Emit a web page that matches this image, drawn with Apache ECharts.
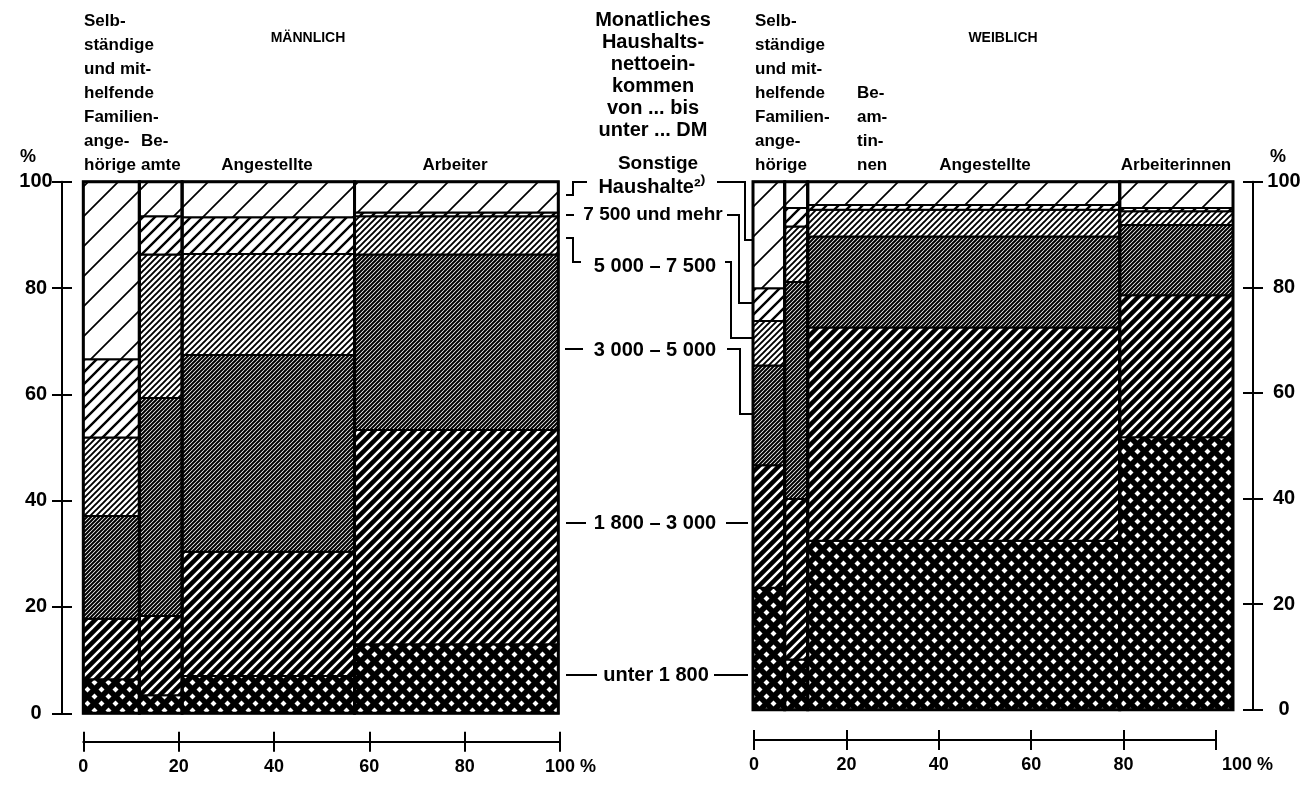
<!DOCTYPE html>
<html><head><meta charset="utf-8">
<script src="https://cdn.jsdelivr.net/npm/echarts@6/dist/echarts.min.js"></script>
<style>html,body{margin:0;padding:0;background:#fff}#c{width:1308px;height:785px}</style>
</head><body><div id="c"></div>
<script>
// ---- data ----
const incomeBands = ['unter 1 800', '1 800 – 3 000', '3 000 – 5 000', '5 000 – 7 500', '7 500 und mehr', 'Sonstige Haushalte'];
const maleGroups = ['Selbständige und mithelfende Familienangehörige', 'Beamte', 'Angestellte', 'Arbeiter'];
const maleWidths = [11.8, 9.0, 36.3, 42.9];
const maleSelbst = [6.4, 11.4, 19.3, 14.8, 14.7, 33.4];
const maleBeamte = [3.4, 14.9, 41.0, 27.0, 7.2, 6.5];
const maleAngest = [7.0, 23.4, 37.0, 19.0, 6.9, 6.7];
const maleArbeit = [13.0, 40.3, 33.0, 7.2, 0.7, 5.8];
const femaleGroups = ['Selbständige und mithelfende Familienangehörige', 'Beamtinnen', 'Angestellte', 'Arbeiterinnen'];
const femaleWidths = [6.6, 4.8, 65.0, 23.6];
const femaleSelbst = [23.1, 23.2, 18.9, 8.4, 6.2, 20.2];
const femaleBeamt = [9.5, 30.4, 41.1, 10.5, 3.5, 5.0];
const femaleAngest = [32.0, 40.4, 17.2, 5.1, 0.9, 4.4];
const femaleArbeit = [51.6, 26.9, 13.3, 2.6, 0.6, 5.0];
const axisTicks = [0, 20, 40, 60, 80, 100];

const maleShares = [maleSelbst, maleBeamte, maleAngest, maleArbeit];
const femaleShares = [femaleSelbst, femaleBeamt, femaleAngest, femaleArbeit];

// ---- patterns ----
function hatch(P, w, bg, fg) {
  const c = document.createElement('canvas'); c.width = P; c.height = P;
  const g = c.getContext('2d');
  g.fillStyle = bg; g.fillRect(0, 0, P, P);
  g.strokeStyle = fg; g.lineWidth = w;
  g.beginPath();
  for (const o of [-P, 0, P]) { g.moveTo(o - 1, P + 1); g.lineTo(o + P + 1, -1); }
  g.stroke();
  return { image: c, repeat: 'repeat' };
}
function cross(P, r) {
  const c = document.createElement('canvas'); c.width = P; c.height = P;
  const g = c.getContext('2d');
  g.fillStyle = '#000'; g.fillRect(0, 0, P, P);
  g.fillStyle = '#fff';
  for (const [cx, cy] of [[P / 4, P / 4], [3 * P / 4, 3 * P / 4]]) {
    g.beginPath(); g.moveTo(cx, cy - r); g.lineTo(cx + r, cy); g.lineTo(cx, cy + r); g.lineTo(cx - r, cy); g.closePath(); g.fill();
  }
  return { image: c, repeat: 'repeat' };
}
const patterns = [
  cross(14, 3.0),
  hatch(10, 2.6, '#000', '#fff'),
  hatch(4, 2.0, '#fff', '#000'),
  hatch(6, 1.9, '#fff', '#000'),
  hatch(12, 2.4, '#fff', '#000'),
  hatch(30, 1.7, '#fff', '#000')
];

function buildSegments(widths, shares) {
  const out = []; let x = 0;
  widths.forEach((w, i) => {
    let y = 0;
    shares[i].forEach((s, b) => { out.push([x, x + w, y, y + s, b]); y += s; });
    x += w;
  });
  return out;
}
function buildColumns(widths) {
  const out = []; let x = 0;
  widths.forEach(w => { out.push([x, x + w, 0, 100]); x += w; });
  return out;
}
function segRender(params, api) {
  const p0 = api.coord([api.value(0), api.value(3)]);
  const p1 = api.coord([api.value(1), api.value(2)]);
  return { type: 'rect', shape: { x: p0[0], y: p0[1], width: p1[0] - p0[0], height: p1[1] - p0[1] },
    style: { fill: patterns[api.value(4)], stroke: '#000', lineWidth: 2 } };
}
function colRender(params, api) {
  const p0 = api.coord([api.value(0), api.value(3)]);
  const p1 = api.coord([api.value(1), api.value(2)]);
  return { type: 'rect', shape: { x: p0[0], y: p0[1], width: p1[0] - p0[0], height: p1[1] - p0[1] },
    style: { fill: null, stroke: '#000', lineWidth: 3 } };
}

const FONT = '"Liberation Sans", Arial, Helvetica, sans-serif';
const blk = { color: '#000', width: 2 };

function txt(x, y, text, o) {
  const st = Object.assign({ text, fill: '#000', fontFamily: FONT, fontWeight: 'bold', fontSize: 17,
    align: 'left', verticalAlign: 'middle' }, o || {});
  st.textAlign = st.align; st.textVerticalAlign = st.verticalAlign;
  return { type: 'text', x, y, silent: true, style: st };
}
function line(points) {
  return { type: 'polyline', silent: true, shape: { points }, style: { stroke: '#000', lineWidth: 2, fill: null } };
}

const tickLbl = { color: '#000', fontFamily: FONT, fontWeight: 'bold', fontSize: 18 };
const axLine = { show: true, onZero: false, lineStyle: blk };
const noLine = { show: false, onZero: false };

const option = {
  animation: false,
  backgroundColor: '#fff',
  grid: [
    { left: 83.3, top: 181.7, width: 475, height: 531.6, outerBoundsMode: 'none' },
    { left: 753, top: 181.7, width: 480, height: 528, outerBoundsMode: 'none' },
    { left: 83.3, top: 181.7, width: 476.7, height: 560, outerBoundsMode: 'none' },
    { left: 754, top: 181.7, width: 462, height: 558.3, outerBoundsMode: 'none' }
  ],
  xAxis: [
    { gridIndex: 0, type: 'value', min: 0, max: 100, show: false },
    { gridIndex: 1, type: 'value', min: 0, max: 100, show: false },
    { gridIndex: 2, type: 'value', min: 0, max: 100, interval: 20, position: 'bottom',
      axisLine: axLine, axisTick: { show: true, length: 10, lineStyle: blk },
      splitLine: { show: false }, axisLabel: Object.assign({ margin: 16, showMinLabel: true, showMaxLabel: true,
        formatter: v => v === 100 ? '{p|}100 %' : String(v), rich: { p: { width: 21 } } }, tickLbl) },
    { gridIndex: 2, type: 'value', min: 0, max: 100, interval: 20, position: 'bottom',
      axisLine: noLine, axisTick: { show: true, inside: true, length: 10, lineStyle: blk },
      splitLine: { show: false }, axisLabel: { show: false } },
    { gridIndex: 3, type: 'value', min: 0, max: 100, interval: 20, position: 'bottom',
      axisLine: axLine, axisTick: { show: true, length: 10, lineStyle: blk },
      splitLine: { show: false }, axisLabel: Object.assign({ margin: 16, showMinLabel: true, showMaxLabel: true,
        formatter: v => v === 100 ? '{p|}100 %' : String(v), rich: { p: { width: 63 } } }, tickLbl) },
    { gridIndex: 3, type: 'value', min: 0, max: 100, interval: 20, position: 'bottom',
      axisLine: noLine, axisTick: { show: true, inside: true, length: 10, lineStyle: blk },
      splitLine: { show: false }, axisLabel: { show: false } }
  ],
  yAxis: [
    { gridIndex: 0, type: 'value', min: 0, max: 100, interval: 20, position: 'left', offset: 21.3,
      axisLine: axLine, axisTick: { show: true, length: 10, lineStyle: blk },
      splitLine: { show: false },
      axisLabel: Object.assign({ margin: 26, align: 'center', showMinLabel: true, showMaxLabel: true }, tickLbl, { fontSize: 20 }) },
    { gridIndex: 0, type: 'value', min: 0, max: 100, interval: 20, position: 'left', offset: 21.3,
      axisLine: noLine, axisTick: { show: true, inside: true, length: 10, lineStyle: blk },
      splitLine: { show: false }, axisLabel: { show: false } },
    { gridIndex: 1, type: 'value', min: 0, max: 100, interval: 20, position: 'right', offset: 20,
      axisLine: axLine, axisTick: { show: true, length: 10, lineStyle: blk },
      splitLine: { show: false },
      axisLabel: Object.assign({ margin: 31, align: 'center', showMinLabel: true, showMaxLabel: true }, tickLbl, { fontSize: 20 }) },
    { gridIndex: 1, type: 'value', min: 0, max: 100, interval: 20, position: 'right', offset: 20,
      axisLine: noLine, axisTick: { show: true, inside: true, length: 10, lineStyle: blk },
      splitLine: { show: false }, axisLabel: { show: false } },
    { gridIndex: 2, type: 'value', min: 0, max: 100, show: false },
    { gridIndex: 3, type: 'value', min: 0, max: 100, show: false }
  ],
  series: [
    { type: 'custom', name: 'Männlich', xAxisIndex: 0, yAxisIndex: 0, renderItem: segRender,
      encode: { x: [0, 1], y: [2, 3] }, data: buildSegments(maleWidths, maleShares) },
    { type: 'custom', xAxisIndex: 0, yAxisIndex: 0, renderItem: colRender, silent: true,
      encode: { x: [0, 1], y: [2, 3] }, data: buildColumns(maleWidths) },
    { type: 'custom', name: 'Weiblich', xAxisIndex: 1, yAxisIndex: 2, renderItem: segRender,
      encode: { x: [0, 1], y: [2, 3] }, data: buildSegments(femaleWidths, femaleShares) },
    { type: 'custom', xAxisIndex: 1, yAxisIndex: 2, renderItem: colRender, silent: true,
      encode: { x: [0, 1], y: [2, 3] }, data: buildColumns(femaleWidths) }
  ],
  graphic: [
    // headers left
    txt(84, 9, 'Selb-\nständige\nund mit-\nhelfende\nFamilien-\nange-\nhörige', { verticalAlign: 'top', lineHeight: 24 }),
    txt(141, 129, 'Be-\namte', { verticalAlign: 'top', lineHeight: 24 }),
    txt(267, 165, 'Angestellte', { align: 'center' }),
    txt(455, 165, 'Arbeiter', { align: 'center' }),
    txt(308, 38, 'MÄNNLICH', { align: 'center', fontSize: 14 }),
    txt(28, 157, '%', { align: 'center', fontSize: 18 }),
    // headers right
    txt(755, 9, 'Selb-\nständige\nund mit-\nhelfende\nFamilien-\nange-\nhörige', { verticalAlign: 'top', lineHeight: 24 }),
    txt(857, 81, 'Be-\nam-\ntin-\nnen', { verticalAlign: 'top', lineHeight: 24 }),
    txt(985, 165, 'Angestellte', { align: 'center' }),
    txt(1176, 165, 'Arbeiterinnen', { align: 'center' }),
    txt(1003, 38, 'WEIBLICH', { align: 'center', fontSize: 14 }),
    txt(1278, 157, '%', { align: 'center', fontSize: 18 }),
    // middle legend block
    txt(653, 9, 'Monatliches\nHaushalts-\nnettoein-\nkommen\nvon ... bis\nunter ... DM', { align: 'center', verticalAlign: 'top', lineHeight: 22, fontSize: 20 }),
    txt(658, 164, 'Sonstige', { align: 'center', fontSize: 19 }),
    txt(652, 187, 'Haushalte²⁾', { align: 'center', fontSize: 20 }),
    txt(653, 215, incomeBands[4], { align: 'center', fontSize: 19 }),
    txt(655, 266, incomeBands[3], { align: 'center', fontSize: 20 }),
    txt(655, 350, incomeBands[2], { align: 'center', fontSize: 20 }),
    txt(655, 523, incomeBands[1], { align: 'center', fontSize: 20 }),
    txt(656, 675, incomeBands[0], { align: 'center', fontSize: 20 }),
    // connectors left
    line([[566, 195], [573, 195], [573, 182], [587, 182]]),
    line([[566, 215], [574, 215]]),
    line([[566, 238], [573, 238], [573, 262], [581, 262]]),
    line([[565, 349], [583, 349]]),
    line([[566, 523], [586, 523]]),
    line([[566, 675], [597, 675]]),
    // connectors right
    line([[717, 182], [745, 182], [745, 240], [752, 240]]),
    line([[727, 215], [739, 215], [739, 303], [752, 303]]),
    line([[725, 262], [731, 262], [731, 338], [752, 338]]),
    line([[727, 349], [740, 349], [740, 414], [752, 414]]),
    line([[726, 523], [748, 523]]),
    line([[714, 675], [748, 675]])
  ]
};
const chart = echarts.init(document.getElementById('c'), null, { renderer: 'canvas' });
chart.setOption(option);
</script>
</body></html>
